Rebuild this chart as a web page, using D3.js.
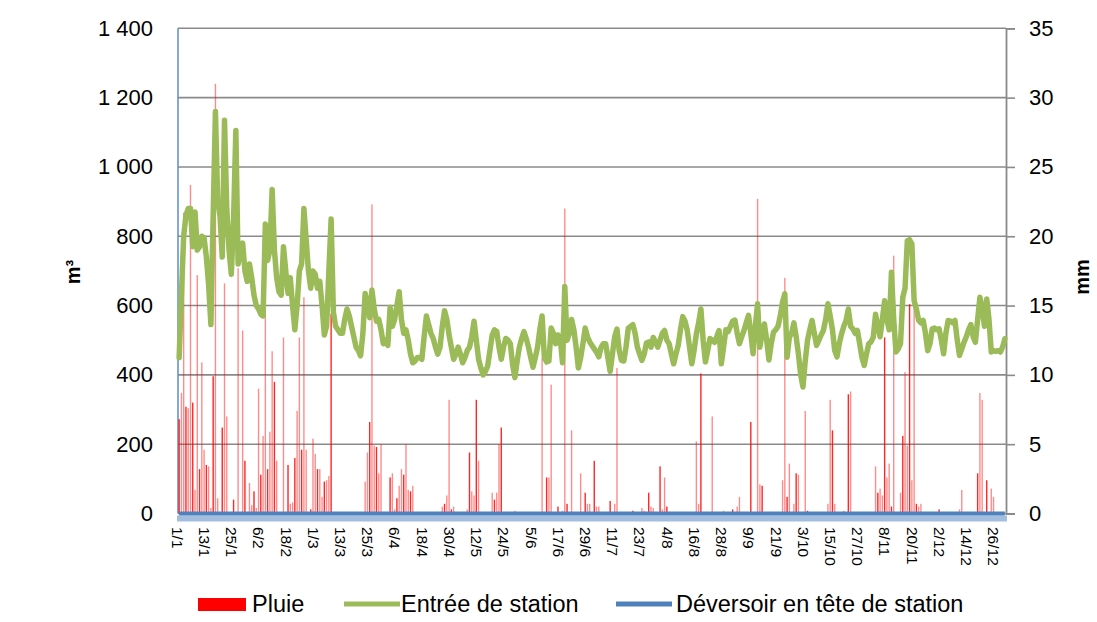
<!DOCTYPE html>
<html><head><meta charset="utf-8">
<script src="https://cdn.jsdelivr.net/npm/d3@7"></script>
<style>body{margin:0;background:#fff} text{font-family:"Liberation Sans",Arial,sans-serif}</style>
</head><body><svg id="c" width="1097" height="622"></svg>
<script>
const tickLabels = ["1/1","13/1","25/1","6/2","18/2","1/3","13/3","25/3","6/4","18/4","30/4","12/5","24/5","5/6","17/6","29/6","11/7","23/7","4/8","16/8","28/8","9/9","21/9","3/10","15/10","27/10","8/11","20/11","2/12","14/12","26/12"];
const tickDays = [0,12,24,36,48,60,72,84,96,108,120,132,144,156,168,180,192,204,216,228,240,252,264,276,288,300,312,324,336,348,360];
const leftTicks = [0,200,400,600,800,1000,1200,1400];
const rightTicks = [0,5,10,15,20,25,30,35];

// Entrée de station (m3), one value per day
const entree = [
450,630,800,860,880,880,770,870,760,770,
800,795,740,660,545,860,1160,900,860,740,
1135,880,760,690,850,1105,720,760,780,700,
670,720,680,630,600,590,575,570,835,730,
760,935,760,680,640,630,770,700,635,680,
600,530,600,700,720,880,790,700,650,700,
690,650,670,600,515,540,700,850,580,540,
530,520,520,560,590,570,540,510,480,470,
455,520,635,610,565,645,590,555,560,530,
490,500,485,595,540,560,600,640,560,520,
530,500,460,435,440,450,450,445,510,570,
545,520,505,480,460,480,540,585,560,515,
480,445,460,480,460,435,450,470,480,510,
555,500,445,420,400,410,425,470,515,530,
525,480,445,480,505,500,490,430,392,440,
480,505,525,505,480,450,422,450,480,530,
570,450,437,440,535,520,490,515,505,435,
655,500,520,560,530,480,420,450,490,535,
510,495,485,475,465,452,480,490,490,450,
410,460,510,532,470,442,440,480,535,540,
545,520,480,460,442,460,492,495,480,508,
495,480,500,520,528,500,490,460,432,460,
485,530,568,555,528,480,432,470,518,550,
590,500,437,470,505,500,494,510,528,432,
480,530,525,540,555,558,520,490,510,528,
550,572,520,461,540,605,480,520,547,500,
443,490,523,530,540,570,610,634,451,509,
520,550,510,460,400,365,440,500,530,557,
520,485,500,515,528,560,605,570,530,470,
452,490,518,540,557,590,540,533,520,528,
490,450,427,460,490,495,509,575,540,510,
560,614,560,530,696,560,466,475,490,624,
650,787,790,778,614,590,557,550,557,520,
470,490,533,535,530,533,500,461,520,557,
555,550,557,500,456,475,494,510,530,545,
510,494,560,624,590,540,619,560,466,470,
468,470,466,480,504];

// Déversoir en tête de station (m3): zero all year
const deversoir = entree.map(() => 0);

// Pluie (mm): day index and value
const rainDay = [0,1,2,3,4,5,6,7,8,9,10,11,12,13,14,15,16,17,19,20,21,24,26,28,29,31,32,33,34,35,36,37,38,39,40,41,42,43,46,48,49,50,51,52,53,54,55,56,58,59,60,61,62,63,64,65,66,67,
82,83,84,85,86,87,88,89,93,94,95,96,97,98,99,100,101,102,103,116,117,118,119,120,121,127,128,129,130,131,132,138,139,140,141,142,148,
160,162,163,164,167,169,170,171,173,177,179,180,181,183,184,185,190,192,193,200,204,205,207,208,209,212,213,214,215,
228,229,230,235,240,244,246,247,252,255,256,257,266,267,268,269,271,272,273,276,277,286,287,288,289,293,295,296,
307,308,309,310,311,312,313,314,315,318,319,320,321,322,323,324,325,326,327,335,344,345,352,353,354,356,358,359];
const rainMm = [6.8,8.7,21.7,7.7,7.6,23.7,8,1.7,17.2,3.2,10.9,4.6,3.5,3.4,0.4,9.9,31,1.1,6.2,16.6,7,1,17.7,13.2,3.8,2.2,0.6,1.6,0.4,9,2.8,5.6,14.6,3.2,5.9,11.7,9.5,3.8,12.7,3.5,0.7,0.8,4,7.4,12.7,4.6,15.6,4.6,0.3,5.4,4.3,3.2,3.2,1.2,2.3,2.4,2.7,14.4,
2.3,4.4,6.6,22.3,4.9,4.8,2.9,5,2.6,2.9,0.3,1.1,2,3.2,2.8,5,1.7,1.6,2,0.5,0.7,1.3,8.2,0.3,0.5,0.3,4.4,1.6,1.3,8.2,3.8,1.5,1,1.5,5,6.2,0.2,
11.2,2.6,2.6,9.3,0.5,0.2,22,0.7,6,2.9,1.5,0.7,0.7,3.8,0.5,0.5,0.9,0.7,10.5,0.2,0.4,0.2,1.5,0.5,0.4,3.4,0.3,2.6,0.5,
5.2,0.7,10.1,7,0.2,0.3,0.5,1.2,6.6,22.7,2.1,2,2.4,17,1.2,3.6,0.7,2.9,2.8,7.4,0.2,0.7,8.2,6,0.7,0.2,8.6,8.8,
3.4,1.5,1.8,1.3,12.7,2.6,3.6,0.5,18.6,1.5,5.6,10.2,4.9,15.1,2.4,15.1,0.7,0.5,0.7,0.3,0.3,1.7,2.9,8.7,8.2,2.4,1.8,1.2];

const svg = d3.select("#c");
const X0 = 178, X1 = 1006, YB = 513.5, YT = 28.3;
const x = d3.scaleBand().domain(d3.range(entree.length)).range([X0, X1]).padding(0);
const bw = x.bandwidth();
const yL = d3.scaleLinear().domain([0, 1400]).range([YB, YT]);
const yR = d3.scaleLinear().domain([0, 35]).range([YB, YT]);
const fr = d3.formatLocale({decimal: ",", thousands: " ", grouping: [3], currency: ["", ""]}).format(",");

// gridlines
svg.append("g").selectAll("line").data(leftTicks).join("line")
  .attr("x1", X0).attr("x2", X1).attr("y1", d => yL(d)).attr("y2", d => yL(d))
  .attr("stroke", "#8a8a8a").attr("stroke-width", 1.6);

// left axis labels
const gl = svg.append("g").attr("transform", `translate(${X0},0)`)
  .call(d3.axisLeft(yL).tickValues(leftTicks).tickFormat(fr).tickSize(0).tickPadding(25));
gl.select(".domain").remove();
gl.selectAll("text").attr("font-size", 22).attr("fill", "#000").style("font-family", '"Liberation Sans",Arial,sans-serif');

// right axis
const gr = svg.append("g").attr("transform", `translate(${X1},0)`)
  .call(d3.axisRight(yR).tickValues(rightTicks).tickSize(9).tickPadding(14));
gr.select(".domain").attr("stroke", "#8a8a8a").attr("stroke-width", 1.8);
gr.selectAll(".tick line").attr("stroke", "#8a8a8a").attr("stroke-width", 1.6);
gr.selectAll("text").attr("font-size", 22).attr("fill", "#000").style("font-family", '"Liberation Sans",Arial,sans-serif');

// left axis line
svg.append("line").attr("x1", X0).attr("x2", X0).attr("y1", YT).attr("y2", YB)
  .attr("stroke", "#5b8cc8").attr("stroke-width", 1.5);

// rain bars
svg.append("g").selectAll("rect").data(rainDay).join("rect")
  .attr("x", (d) => x(d) + bw / 2 - 0.7)
  .attr("width", 1.4)
  .attr("y", (d, i) => yR(rainMm[i]))
  .attr("height", (d, i) => yR(0) - yR(rainMm[i]))
  .attr("fill", "#ff0000").attr("fill-opacity", (d, i) => (i % 3 === 0 ? 0.85 : 0.45));

// Entrée de station
const line = d3.line().x((d, i) => x(i) + bw / 2).y(d => yL(d));
svg.append("path").datum(entree).attr("d", line)
  .attr("fill", "none").attr("stroke", "#9bbb59").attr("stroke-width", 5.5)
  .attr("stroke-linejoin", "round").attr("stroke-linecap", "round");

// Déversoir
svg.append("rect").attr("x", X0 - 1).attr("y", YB + 2).attr("width", X1 - X0 + 2).attr("height", 6)
  .attr("fill", "#a3bddf");
svg.append("path").datum(deversoir).attr("d", line)
  .attr("fill", "none").attr("stroke", "#4f81bd").attr("stroke-width", 4);

// x labels
svg.append("g").selectAll("text").data(tickDays).join("text")
  .attr("transform", (d) => `translate(${x(d) + bw / 2 - 2},527) rotate(90)`)
  .attr("dy", "0.35em").attr("font-size", 15.5).attr("fill", "#000")
  .text((d, i) => tickLabels[i]);

// axis titles
svg.append("text").attr("transform", "translate(80,272) rotate(-90)")
  .attr("text-anchor", "middle").attr("font-size", 20).attr("font-weight", "bold").text("m³");
svg.append("text").attr("transform", "translate(1089,277) rotate(-90)")
  .attr("text-anchor", "middle").attr("font-size", 20).attr("font-weight", "bold").text("mm");

// legend
const lg = svg.append("g");
lg.append("rect").attr("x", 198).attr("y", 598).attr("width", 48).attr("height", 13).attr("fill", "#ff0000");
lg.append("text").attr("x", 252).attr("y", 612).attr("font-size", 23.5).text("Pluie");
lg.append("line").attr("x1", 344).attr("x2", 400).attr("y1", 604).attr("y2", 604).attr("stroke", "#9bbb59").attr("stroke-width", 5);
lg.append("text").attr("x", 401).attr("y", 612).attr("font-size", 23.5).text("Entrée de station");
lg.append("line").attr("x1", 616).attr("x2", 672).attr("y1", 604).attr("y2", 604).attr("stroke", "#4f81bd").attr("stroke-width", 5);
lg.append("text").attr("x", 676).attr("y", 612).attr("font-size", 23.5).text("Déversoir en tête de station");
</script></body></html>
